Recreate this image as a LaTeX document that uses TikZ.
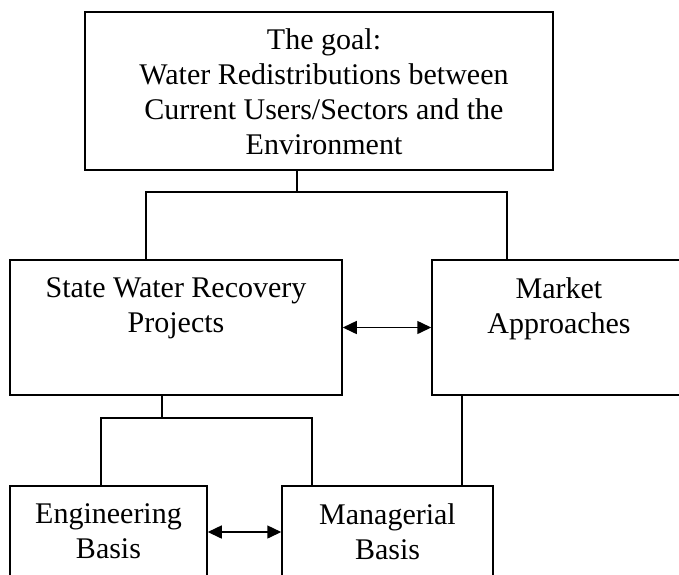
\documentclass[tikz,border=0pt]{standalone}
\usepackage{fontspec}
\setmainfont{Liberation Serif}
\usetikzlibrary{arrows.meta}

\begin{document}
\begin{tikzpicture}[x=0.5pt, y=-0.5pt,
    box/.style={draw, line width=0.75pt, inner sep=0pt},
    boxtext/.style={align=center, anchor=north, inner sep=0pt, font=\fontsize{15}{17.5}\selectfont},
    link/.style={line width=0.75pt},
    twoway/.style={link, {Triangle[length=7pt,width=6.5pt]}-{Triangle[length=7pt,width=6.5pt]}}]
    \useasboundingbox (0,0) rectangle (679,574);
    \clip (0,0) rectangle (679,574);
    \node[box, minimum width=234pt, minimum height=79pt] (goal) at (319,91) {};
    \node[box, minimum width=166pt, minimum height=67.5pt] (state) at (176,327.5) {};
    \node[box, minimum width=127pt, minimum height=67.5pt] (market) at (559,327.5) {};
    \node[box, minimum width=98.5pt, minimum height=46pt] (eng) at (108.5,532) {};
    \node[box, minimum width=105.5pt, minimum height=46pt] (manag) at (387.5,532) {};
    \node[boxtext] (goaltext) at ([xshift=2.5pt, yshift=-8.5pt]goal.north) {The goal:\\Water Redistributions between\\Current Users/Sectors and the\\Environment};
    \node[boxtext] (statetext) at ([yshift=-9pt]state.north) {State Water Recovery\\Projects};
    \node[boxtext] (markettext) at ([yshift=-9pt]market.north) {Market\\Approaches};
    \node[boxtext] (engtext) at ([yshift=-9pt]eng.north) {Engineering\\Basis};
    \node[boxtext] (managtext) at ([yshift=-9pt]manag.north) {Managerial\\Basis};
    \coordinate (goalfoot) at (297,192);
    \coordinate (stateleg) at (146,192);
    \coordinate (marketleg) at (507,192);
    \coordinate (statefoot) at (162,418);
    \coordinate (engleg) at (101,418);
    \coordinate (managleg) at (312,418);
    \coordinate (marketfoot) at (462,418);
    \draw[link] (goal.south -| goalfoot) -- (goalfoot);
    \draw[link] (stateleg |- state.north) |- (marketleg) -- (marketleg |- market.north);
    \draw[link] (state.south -| statefoot) -- (statefoot);
    \draw[link] (engleg |- eng.north) |- (managleg) -- (managleg |- manag.north);
    \draw[link] (market.south -| marketfoot) -- (marketfoot |- manag.north);
    \draw[twoway] (state.east) -- (market.west);
    \draw[twoway] (eng.east) -- (manag.west);
\end{tikzpicture}
\end{document}
